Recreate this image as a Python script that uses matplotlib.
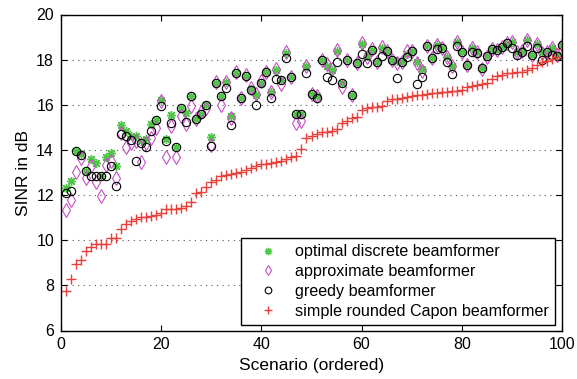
import matplotlib
matplotlib.use("Agg")
import matplotlib.pyplot as plt
import numpy as np

plt.rcParams['font.family'] = ['Liberation Sans', 'DejaVu Sans']

# SINR per scenario, scenarios sorted by the Capon result
scenario = np.arange(1, 101)

optimal = [12.3, 12.64, 13.97, 13.8, 13.08, 13.58, 13.4, 12.86, 13.7, 13.85,
           13.3, 15.1, 14.83, 14.6, 14.62, 14.4, 14.5, 15.15, 15.33, 16.2,
           14.5, 15.55, 14.13, 15.84, 15.62, 16.4, 15.38, 15.6, 16.0, 14.56,
           16.95, 16.4, 17.0, 15.5, 17.4, 16.31, 17.28, 16.7, 16.43, 16.97,
           17.46, 16.58, 17.54, 17.08, 18.31, 17.23, 15.58, 15.6, 17.7, 16.5,
           16.4, 17.98, 17.74, 17.54, 18.38, 16.95, 18.0, 16.45, 17.84, 18.69,
           18.15, 18.42, 17.91, 18.5, 18.38, 18.0, 17.95, 17.88, 18.25, 18.38,
           17.88, 17.6, 18.6, 18.06, 18.65, 18.5, 18.13, 17.7, 18.8, 18.33,
           17.76, 18.5, 18.32, 17.62, 18.15, 18.46, 18.43, 18.57, 18.75, 18.8,
           18.33, 18.38, 18.87, 18.21, 18.68, 18.35, 18.33, 18.5, 18.2, 18.67]

approx = [11.36, 11.78, 13.03, 13.63, 12.74, 13.3, 12.59, 11.96, 13.33, 13.5,
          12.74, 14.75, 14.14, 14.3, 14.4, 13.48, 14.3, 14.52, 14.96, 16.15,
          13.7, 15.05, 13.7, 15.5, 15.15, 15.95, 15.38, 15.7, 15.85, 14.2,
          17.0, 15.99, 17.02, 15.4, 17.45, 16.31, 17.3, 16.75, 16.5, 17.05,
          17.46, 16.55, 17.58, 16.92, 18.35, 17.23, 15.2, 15.3, 17.72, 16.5,
          16.4, 17.98, 17.8, 17.58, 18.42, 16.8, 18.0, 16.45, 17.84, 18.72,
          18.1, 18.45, 17.91, 18.55, 18.38, 18.0, 17.85, 17.88, 18.4, 18.38,
          17.85, 17.5, 18.6, 18.06, 18.65, 18.5, 18.13, 17.72, 18.8, 18.33,
          17.76, 18.52, 18.32, 17.6, 18.12, 18.46, 18.43, 18.57, 18.75, 18.8,
          18.33, 18.38, 18.87, 18.21, 18.68, 18.3, 18.33, 18.52, 18.2, 18.67]

greedy = [12.07, 12.19, 13.97, 13.77, 13.08, 12.86, 12.86, 12.86, 12.86, 13.29,
          12.41, 14.71, 14.62, 14.44, 13.52, 14.32, 14.14, 14.85, 15.33, 15.95,
          14.41, 15.21, 14.13, 15.84, 15.25, 16.4, 15.38, 15.6, 16.0, 14.17,
          16.95, 16.4, 16.75, 15.1, 17.4, 16.31, 17.28, 16.67, 15.99, 16.97,
          17.46, 16.3, 17.15, 17.08, 18.06, 17.23, 15.58, 15.6, 17.4, 16.5,
          16.29, 17.98, 17.23, 17.1, 17.9, 16.95, 18.0, 16.45, 17.84, 18.25,
          17.84, 18.42, 17.91, 18.18, 18.38, 18.0, 17.18, 17.88, 18.1, 18.38,
          16.9, 17.24, 18.6, 18.06, 18.45, 18.5, 17.9, 17.36, 18.6, 18.33,
          17.76, 18.35, 18.3, 17.62, 18.15, 18.46, 18.43, 18.57, 18.75, 18.5,
          18.21, 18.36, 18.6, 18.21, 18.5, 18.0, 18.33, 18.22, 18.18, 18.67]

capon = [7.75, 8.3, 8.95, 9.13, 9.54, 9.69, 9.83, 9.83, 9.85, 10.08,
         10.12, 10.48, 10.70, 10.86, 10.92, 11.01, 11.04, 11.08, 11.13, 11.2,
         11.38, 11.40, 11.40, 11.42, 11.53, 11.68, 12.08, 12.12, 12.37, 12.59,
         12.66, 12.86, 12.88, 12.93, 12.96, 13.04, 13.11, 13.18, 13.29, 13.36,
         13.38, 13.43, 13.48, 13.52, 13.58, 13.67, 13.73, 14.03, 14.52, 14.62,
         14.71, 14.78, 14.80, 14.85, 14.93, 15.18, 15.30, 15.40, 15.48, 15.76,
         15.84, 15.88, 15.91, 15.94, 16.18, 16.24, 16.26, 16.28, 16.36, 16.39,
         16.42, 16.44, 16.46, 16.51, 16.54, 16.55, 16.58, 16.61, 16.62, 16.66,
         16.77, 16.83, 16.87, 16.92, 16.95, 17.13, 17.28, 17.32, 17.39, 17.43,
         17.46, 17.46, 17.54, 17.61, 17.76, 17.88, 17.96, 18.02, 18.13, 18.45]

labels = ['optimal discrete beamformer', 'approximate beamformer',
          'greedy beamformer', 'simple rounded Capon beamformer']

fig = plt.figure(figsize=(5.77, 3.79), dpi=100)
ax = fig.add_axes([61/577, 1 - 330.5/379, 501/577, 316/379])

ax.plot(scenario, optimal, ls='none', marker=(8, 2, 0), ms=6.5, mew=1.0,
        color='#4ec646', label=labels[0])
ax.plot(scenario, approx, ls='none', marker='d', ms=7, mew=0.8, mfc='none',
        color='#c64fc6', label=labels[1])
ax.plot(scenario, greedy, ls='none', marker='o', ms=6, mew=0.8, mfc='none',
        color='black', label=labels[2])
ax.plot(scenario, capon, ls='none', marker='+', ms=6.5, mew=1.0,
        color='#e8413c', label=labels[3])

ax.set_xlim(0, 100)
ax.set_ylim(6, 20)
ax.set_xticks(np.arange(0, 101, 20))
ax.set_yticks(np.arange(6, 21, 2))
ax.tick_params(direction='in', top=True, right=True, length=4, width=0.8,
               labelsize=11.5, pad=5)
ax.yaxis.grid(True, linestyle=(0, (1, 4)), color='#555555', linewidth=0.8)
for s in ax.spines.values():
    s.set_linewidth(1.0)

ax.set_xlabel('Scenario (ordered)', fontsize=12.5, labelpad=4)
ax.set_ylabel('SINR in dB', fontsize=12.5, labelpad=4)

leg = ax.legend(loc='lower right', bbox_to_anchor=(0.986, 0.017),
                borderaxespad=0, fancybox=False, framealpha=1, edgecolor='black',
                fontsize=11.6, handlelength=2.5, handletextpad=0.4,
                labelspacing=0.3, borderpad=0.4, markerscale=0.8)
leg.get_frame().set_linewidth(1.0)

fig.savefig('out.png', dpi=100)
